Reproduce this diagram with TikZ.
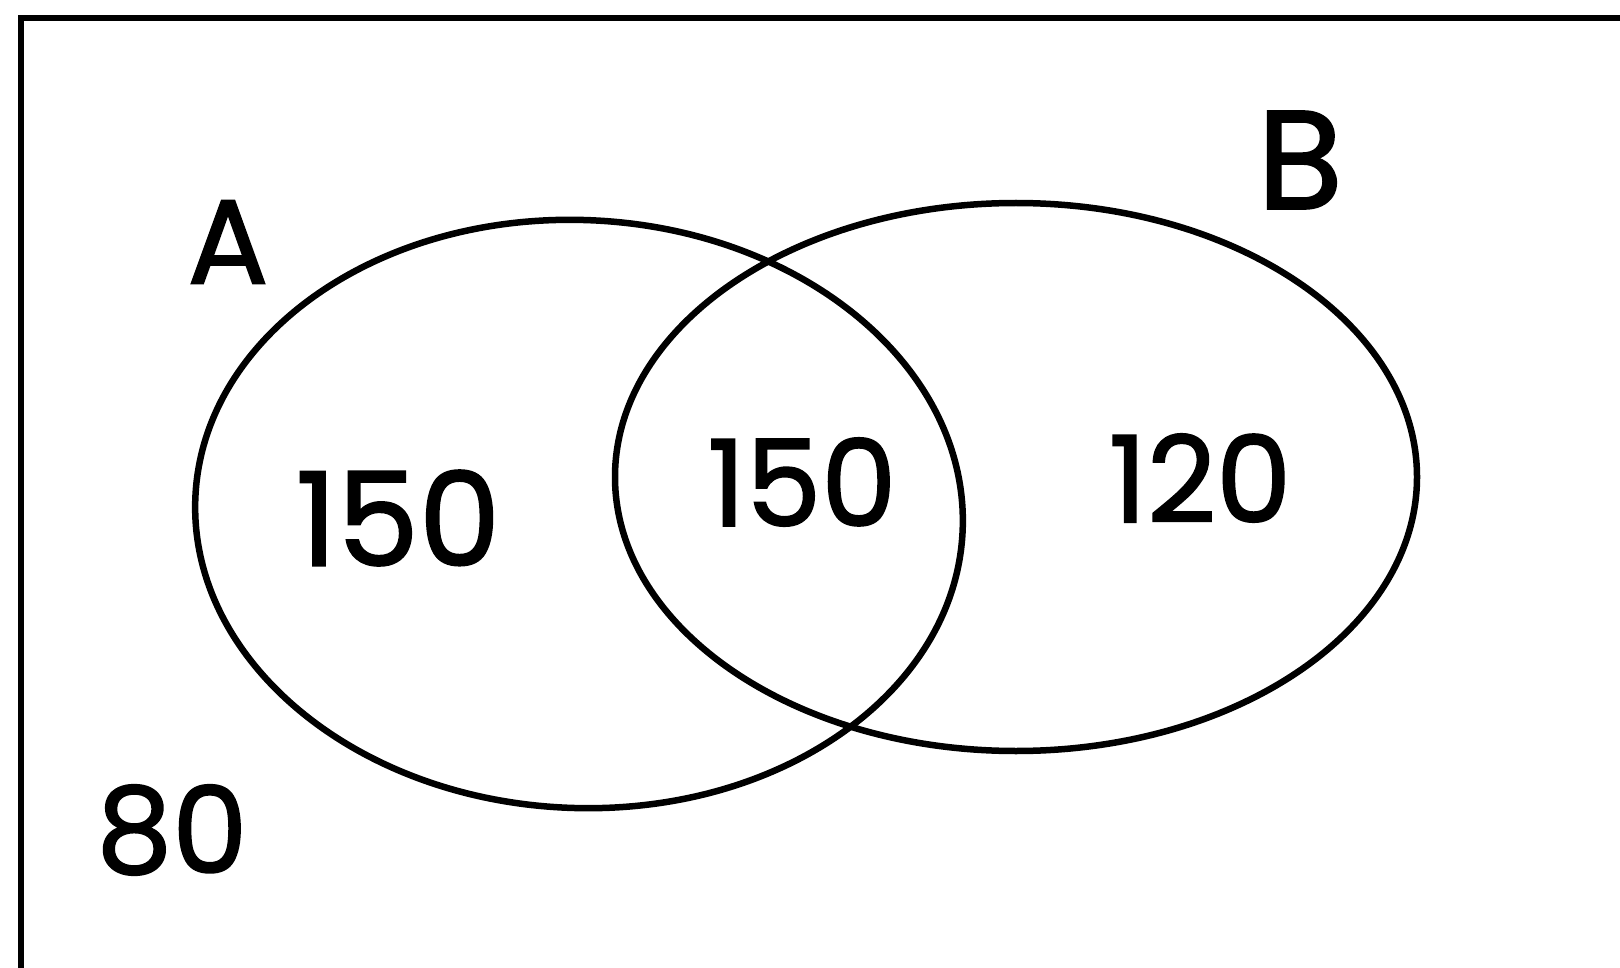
\documentclass[tikz,border=0pt]{standalone}
\usepackage{fontspec}
\setmainfont{Poppins}
\newfontfamily\handfont[FakeBold=1.5]{Poppins}
\tikzset{
  line/.style={line width=6.5pt, black},
  lbl/.style={font=\fontsize{120}{120}\selectfont\handfont, inner sep=0pt, text=black}
}
\begin{document}
\begin{tikzpicture}[x=1pt,y=-1pt]
\useasboundingbox (0,0) rectangle (1620,968);
\fill[white] (0,0) rectangle (1620,968);
% frame
\draw[line, line cap=round] (21,980) -- (21,18) -- (1640,18);
% sets
\draw[line, rotate around={-2.5:(579,514)}] (579,514) ellipse [x radius=384, y radius=294];
\draw[line] (1016,477) ellipse [x radius=401, y radius=274];
% labels
\node[lbl] (lA) at (228,242) {A};
\node[lbl, font=\fontsize{140}{140}\selectfont\handfont] (lB) at (1300,160) {B};
\node[lbl, font=\fontsize{130}{130}\selectfont\handfont] (nA) at (398,518) {150};
\node[lbl] (nAB) at (802,482) {150};
\node[lbl] (nB) at (1200,478) {120};
\node[lbl] (nU) at (172,830) {80};
\end{tikzpicture}
\end{document}
